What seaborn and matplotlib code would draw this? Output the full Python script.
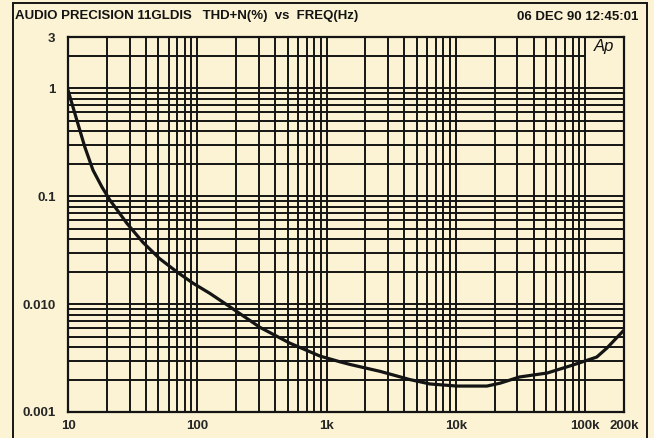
import numpy as np
import matplotlib
matplotlib.use("Agg")
import matplotlib.pyplot as plt
import matplotlib.ticker as mticker
import matplotlib.patches as mpatches
import seaborn as sns

# THD+N sweep
freq_hz = [10, 11.7, 13.5, 15.6, 18.3, 21, 28.6, 38, 51, 70, 93, 125, 180,
           305, 520, 890, 1270, 1520, 2600, 4400, 6300, 10200, 17400, 22000,
           31000, 51000, 80000, 123000, 147000, 200000]
thd_pct = [0.966, 0.509, 0.286, 0.175, 0.122, 0.093, 0.056, 0.0374, 0.0265,
           0.0198, 0.0156, 0.0126, 0.0094, 0.0061, 0.00435, 0.00330, 0.00292,
           0.00276, 0.00238, 0.00200, 0.00182, 0.00174, 0.00174, 0.00185,
           0.00211, 0.00230, 0.00272, 0.00323, 0.00390, 0.00575]

x_ticks = [10, 100, 1000, 10000, 100000, 200000]
x_labels = ["10", "100", "1k", "10k", "100k", "200k"]
y_ticks = [0.001, 0.01, 0.1, 1, 3]
y_labels = ["0.001", "0.010", "0.1", "1", "3"]

title_left = "AUDIO PRECISION 11GLDIS   THD+N(%)  vs  FREQ(Hz)"
title_right = "06 DEC 90 12:45:01"

BG = "#FBF3D3"
INK = "#141414"

sns.set_style("white")
plt.rcParams["font.family"] = ["Liberation Sans", "DejaVu Sans"]

W, H = 654, 438
fig = plt.figure(figsize=(W / 100, H / 100), dpi=100, facecolor=BG)
ax = fig.add_axes([68 / W, 1 - 412 / H, 556 / W, 375 / H])
ax.set_facecolor(BG)

ax.set_xscale("log")
ax.set_yscale("log")
ax.set_xlim(10, 200000)
ax.set_ylim(0.001, 3)

# grid: log minor lines, the "2" line stops at 100k to leave room for the logo
ax.xaxis.set_major_locator(mticker.FixedLocator(x_ticks))
ax.xaxis.set_major_formatter(mticker.FixedFormatter(x_labels))
ax.xaxis.set_minor_locator(mticker.LogLocator(base=10, subs=np.arange(2, 10), numticks=20))
ax.xaxis.set_minor_formatter(mticker.NullFormatter())

y_minor = [m * 10.0 ** e for e in range(-3, 0) for m in range(2, 10)]
ax.yaxis.set_major_locator(mticker.FixedLocator(y_ticks))
ax.yaxis.set_major_formatter(mticker.FixedFormatter(y_labels))
ax.yaxis.set_minor_locator(mticker.FixedLocator(y_minor))
ax.yaxis.set_minor_formatter(mticker.NullFormatter())

ax.grid(True, which="both", color=INK, lw=1.4, zorder=1)
ax.hlines(2, 10, 100000, color=INK, lw=1.4, zorder=1)
ax.set_axisbelow(True)

sns.lineplot(x=freq_hz, y=thd_pct, ax=ax, color=INK, lw=2.3, zorder=3)

for s in ax.spines.values():
    s.set_color(INK)
    s.set_linewidth(1.6)

ax.tick_params(which="both", length=0)
ax.tick_params(axis="y", pad=9, labelsize=9.5)
ax.tick_params(axis="x", pad=6, labelsize=9.5)
for lbl in ax.get_xticklabels() + ax.get_yticklabels():
    lbl.set_fontweight("bold")

fig.text(604 / W, 1 - 47 / H, "Ap", fontsize=12, fontstyle="italic", color=INK,
         ha="center", va="center")

fig.text(15 / W, 1 - 16.5 / H, title_left, fontsize=9.5, fontweight="bold",
         ha="left", va="center", color=INK)
fig.text(638 / W, 1 - 16.5 / H, title_right, fontsize=9.5, fontweight="bold",
         ha="right", va="center", color=INK)

# outer frame of the analyzer printout
frame = mpatches.Rectangle((13 / W, -0.01), 634 / W, 1 - 3 / H + 0.01,
                           transform=fig.transFigure, fill=False,
                           edgecolor=INK, lw=1.4)
fig.patches.append(frame)

fig.savefig("out.png", dpi=100, facecolor=BG)
